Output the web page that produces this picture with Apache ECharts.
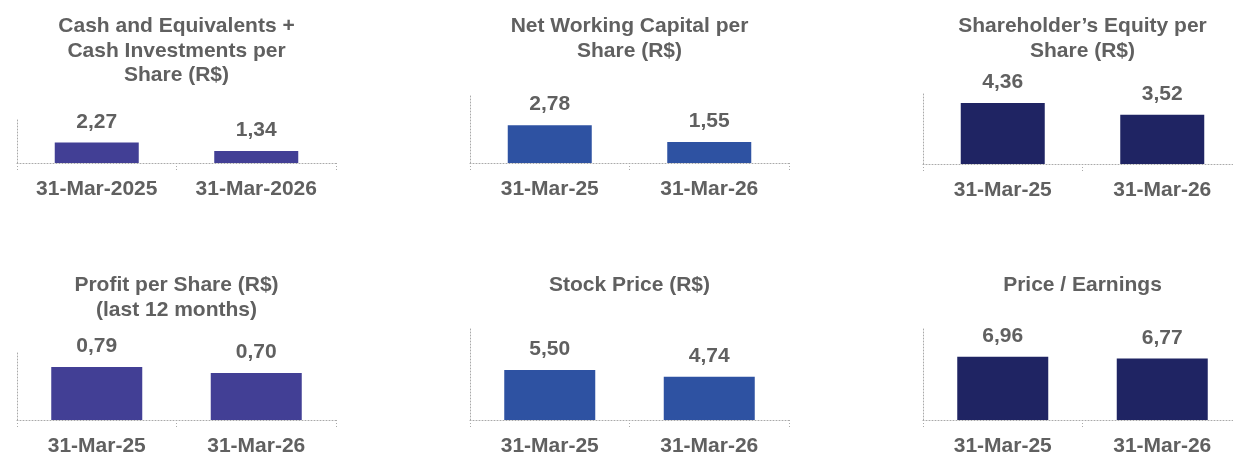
<!DOCTYPE html>
<html>
<head>
<meta charset="utf-8">
<title>Per-share indicators</title>
<script src="https://cdn.jsdelivr.net/npm/echarts@6/dist/echarts.min.js"></script>
<style>
  html, body { margin: 0; padding: 0; background: #ffffff; overflow: hidden; }
  /* the canvas is a little wider than the page so the right column can run past its edge */
  #chart { width: 1250px; height: 457px; }
</style>
</head>
<body>
<div id="chart"></div>
<script>
// Panel titles
const titles = [
  'Cash and Equivalents +\nCash Investments per\nShare (R$)',
  'Net Working Capital per\nShare (R$)',
  'Shareholder\u2019s Equity per\nShare (R$)',
  'Profit per Share (R$)\n(last 12 months)',
  'Stock Price (R$)',
  'Price / Earnings'
];

// Category labels
const datesLong = ['31-Mar-2025', '31-Mar-2026'];
const datesShort = ['31-Mar-25', '31-Mar-26'];

// Values per panel
const cashPerShare = [2.27, 1.34];
const workingCapitalPerShare = [2.78, 1.55];
const equityPerShare = [4.36, 3.52];
const profitPerShare = [0.79, 0.70];
const stockPrice = [5.50, 4.74];
const priceEarnings = [6.96, 6.77];

// Value-axis maximum per panel
const axisMax = [5, 5, 5, 1, 10, 10];

const panelData = [cashPerShare, workingCapitalPerShare, equityPerShare, profitPerShare, stockPrice, priceEarnings];
const panelCats = [datesLong, datesShort, datesShort, datesShort, datesShort, datesShort];

// Plot areas in pixels
const layout = [
  { left: 17,  top: 118, width: 319, height: 45, titleTop: 14,  barWidth: 84, color: '#423F95' },
  { left: 470, top: 95,  width: 319, height: 68, titleTop: 14,  barWidth: 84, color: '#2E52A2' },
  { left: 923, top: 94,  width: 319, height: 70, titleTop: 14,  barWidth: 84, color: '#1F2463' },
  { left: 17,  top: 353, width: 319, height: 69, titleTop: 273, barWidth: 91, color: '#423F95' },
  { left: 470, top: 329, width: 319, height: 93, titleTop: 273, barWidth: 91, color: '#2E52A2' },
  { left: 923, top: 329, width: 319, height: 93, titleTop: 273, barWidth: 91, color: '#1F2463' }
];

const FONT = '"Liberation Sans", Arial, Helvetica, sans-serif';
const TEXT = '#606060';
const DOTS = '#a9a9a9';
const DOT_TYPE = [1, 2];

const fmt = v => v.toFixed(2).replace('.', ',');

const option = {
  animation: false,
  backgroundColor: '#ffffff',
  title: [],
  grid: [],
  xAxis: [],
  yAxis: [],
  series: []
};

layout.forEach((p, i) => {
  option.title.push({
    text: titles[i],
    left: p.left + p.width / 2,
    top: p.titleTop,
    textAlign: 'center',
    padding: 0,
    textStyle: {
      fontFamily: FONT, fontSize: 21, fontWeight: 'bold',
      color: TEXT, lineHeight: 24.5
    }
  });
  option.grid.push({
    left: p.left,
    top: p.top,
    width: p.width,
    height: p.height,
    containLabel: false
  });
  option.xAxis.push({
    type: 'category',
    gridIndex: i,
    data: panelCats[i],
    axisLine: { show: true, lineStyle: { color: DOTS, width: 1, type: DOT_TYPE } },
    axisTick: { show: true, length: 7, lineStyle: { color: DOTS, width: 1, type: DOT_TYPE } },
    axisLabel: {
      margin: 16, fontFamily: FONT, fontSize: 21, fontWeight: 'bold',
      color: TEXT, lineHeight: 21, interval: 0
    },
    splitLine: { show: false }
  });
  option.yAxis.push({
    type: 'value',
    gridIndex: i,
    min: 0,
    max: axisMax[i],
    axisLine: { show: true, lineStyle: { color: DOTS, width: 1, type: DOT_TYPE } },
    axisTick: { show: false },
    axisLabel: { show: false },
    splitLine: { show: false }
  });
  option.series.push({
    type: 'bar',
    xAxisIndex: i,
    yAxisIndex: i,
    data: panelData[i],
    barWidth: p.barWidth,
    itemStyle: { color: p.color },
    label: {
      show: true,
      position: 'top',
      distance: 10,
      fontFamily: FONT, fontSize: 21, fontWeight: 'bold',
      color: TEXT, lineHeight: 21,
      formatter: params => fmt(params.value)
    }
  });
});

const chart = echarts.init(document.getElementById('chart'), null, { renderer: 'canvas' });
chart.setOption(option);
</script>
</body>
</html>
